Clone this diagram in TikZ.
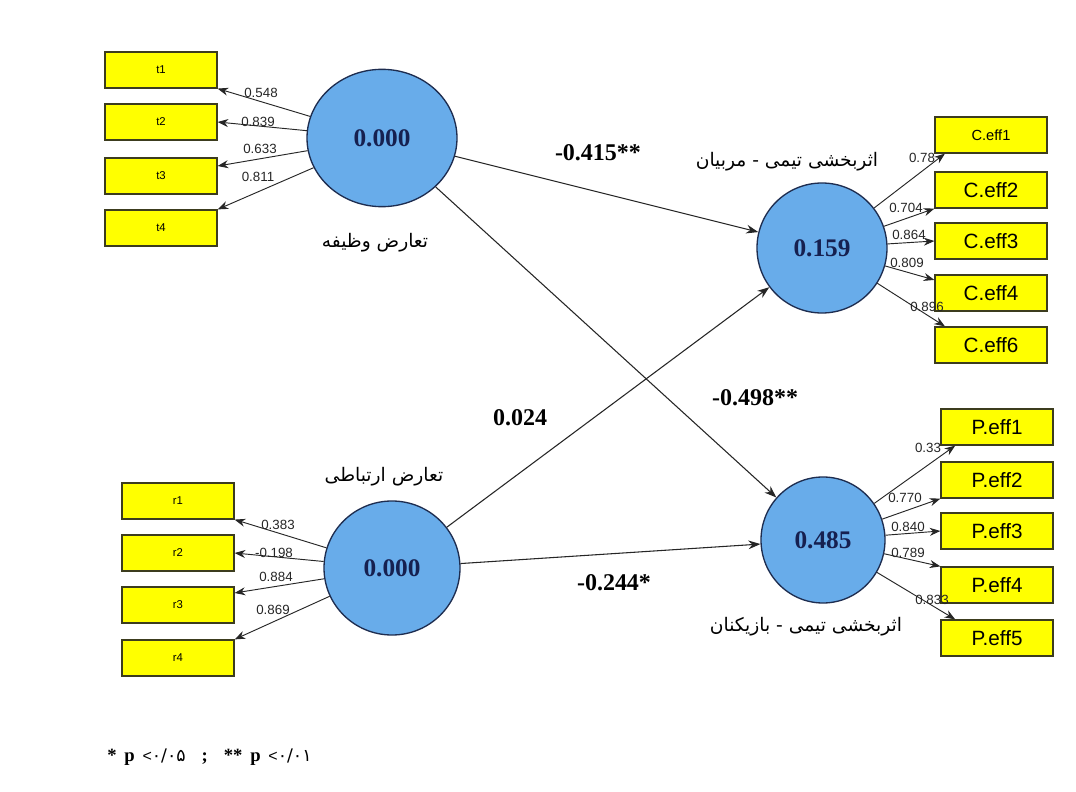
\documentclass[tikz,border=0pt]{standalone}
\usepackage{fontspec}
\usepackage{tikz}
\usetikzlibrary{shapes.geometric,arrows.meta}
\setmainfont{Liberation Serif}
\newfontfamily\boxfont{Liberation Sans}
\newfontfamily\farsifont[Script=Arabic]{DejaVu Sans}
\TeXXeTstate=1
\definecolor{latent-blue}{RGB}{104,172,234}
\definecolor{latent-edge}{RGB}{30,45,80}
\definecolor{value-navy}{RGB}{22,32,80}
\definecolor{box-yellow}{RGB}{255,255,0}
\definecolor{box-edge}{RGB}{60,60,30}
\tikzset{
    latent-var/.style = {draw=latent-edge, fill=latent-blue, ellipse, line width=1pt, inner sep=0pt, text=value-navy, font=\fontsize{19}{22}\selectfont\bfseries},
    indicator-box/.style = {draw=box-edge, fill=box-yellow, rectangle, line width=0.9pt, minimum width=84pt, minimum height=27pt, inner sep=0pt, font=\boxfont\fontsize{15.5}{17}\selectfont},
    loading-label/.style = {font=\boxfont\fontsize{10}{11}\selectfont, inner sep=0pt, text=black!85},
    path-label/.style = {font=\fontsize{18}{20}\selectfont\bfseries, inner sep=0pt},
    fa-label/.style = {font=\farsifont\fontsize{14}{16}\selectfont, inner sep=0pt},
    load-arrow/.style = {-{Stealth[length=8pt,width=6pt]}, draw=black!85, line width=0.7pt},
    path-arrow/.style = {-{Stealth[length=9pt,width=6.5pt]}, draw=black!85, line width=0.8pt},
}

\begin{document}
\begin{tikzpicture}[x=0.75pt, y=-0.75pt]
\fill[white] (0,0) rectangle (1076,792);
\useasboundingbox (0,0) rectangle (1076,792);

\node[latent-var, minimum width=112.5pt, minimum height=103pt] (tc) at (382,138) {0.000};
\node[latent-var, minimum width=102pt, minimum height=100.5pt] (rc) at (392,568) {0.000};
\node[latent-var, minimum width=97.5pt, minimum height=97.5pt] (ce) at (822,248) {0.159};
\node[latent-var, minimum width=93pt, minimum height=94.5pt] (pe) at (823,540) {0.485};

\foreach \i/\y in {1/70,2/122,3/176,4/228}
    \node[indicator-box, font=\boxfont\fontsize{8.5}{9}\selectfont] (t\i) at (161,\y) {t\i};
\foreach \i/\y in {1/501,2/553,3/605,4/658}
    \node[indicator-box, font=\boxfont\fontsize{8.5}{9}\selectfont] (r\i) at (178,\y) {r\i};
\node[indicator-box, font=\boxfont\fontsize{11}{12}\selectfont] (c1) at (991,135) {C.eff1};
\node[indicator-box] (c2) at (991,190) {C.eff2};
\node[indicator-box] (c3) at (991,241) {C.eff3};
\node[indicator-box] (c4) at (991,293) {C.eff4};
\node[indicator-box] (c5) at (991,345) {C.eff6};
\foreach \i/\y in {1/427,2/480,3/531,4/585,5/638}
    \node[indicator-box] (p\i) at (997,\y) {P.eff\i};

\draw[load-arrow] (tc) -- (t1.south east);
\draw[load-arrow] (tc) -- (t2.east);
\draw[load-arrow] (tc) -- (t3.10);
\draw[load-arrow] (tc) -- (t4.north east);
\draw[load-arrow] (rc) -- (r1.south east);
\draw[load-arrow] (rc) -- (r2.east);
\draw[load-arrow] (rc) -- (r3.12);
\draw[load-arrow] (rc) -- (r4.north east);
\draw[load-arrow] (ce) -- (c1.202);
\draw[load-arrow] (ce) -- (c2.south west);
\draw[load-arrow] (ce) -- (c3.west);
\draw[load-arrow] (ce) -- (c4.167);
\draw[load-arrow] (ce) -- (c5.158);
\draw[load-arrow] (pe) -- (p1.204);
\draw[load-arrow] (pe) -- (p2.south west);
\draw[load-arrow] (pe) -- (p3.west);
\draw[load-arrow] (pe) -- (p4.north west);
\draw[load-arrow] (pe) -- (p5.156);

\node[loading-label] (l-t1) at (261,93) {0.548};
\node[loading-label] (l-t2) at (258,122) {0.839};
\node[loading-label] (l-t3) at (260,149) {0.633};
\node[loading-label] (l-t4) at (258,177) {0.811};
\node[loading-label] (l-r1) at (278,525) {0.383};
\node[loading-label] (l-r2) at (274,553) {-0.198};
\node[loading-label] (l-r3) at (276,577) {0.884};
\node[loading-label] (l-r4) at (273,610) {0.869};
\node[loading-label] (l-c1) at (922,158) {0.78};
\node[loading-label] (l-c2) at (906,208) {0.704};
\node[loading-label] (l-c3) at (909,235) {0.864};
\node[loading-label] (l-c4) at (907,263) {0.809};
\node[loading-label] (l-c5) at (927,307) {0.896};
\node[loading-label] (l-p1) at (928,448) {0.33};
\node[loading-label] (l-p2) at (905,498) {0.770};
\node[loading-label] (l-p3) at (908,527) {0.840};
\node[loading-label] (l-p4) at (908,553) {0.789};
\node[loading-label] (l-p5) at (932,600) {0.833};

\draw[path-arrow] (tc) -- (ce);
\draw[path-arrow] (tc) -- (pe);
\draw[path-arrow] (rc) -- (ce);
\draw[path-arrow] (rc) -- (pe);

\node[path-label] (b-tc-ce) at (598,153) {-0.415**};
\node[path-label] (b-tc-pe) at (755,398) {-0.498**};
\node[path-label] (b-rc-ce) at (520,418) {0.024};
\node[path-label] (b-rc-pe) at (614,583) {-0.244*};

\node[fa-label] (tc-name) at (375,243) {\beginR تعارض وظیفه\endR};
\node[fa-label] (rc-name) at (384,477) {\beginR تعارض ارتباطی\endR};
\node[fa-label] (ce-name) at (787,162) {\beginR اثربخشی تیمی - مربیان\endR};
\node[fa-label] (pe-name) at (806,627) {\beginR اثربخشی تیمی - بازیکنان\endR};

\node[anchor=west, inner sep=0pt, font=\fontsize{14}{16}\selectfont\bfseries] (note) at (107,757)
    {*\, p\, {\boxfont\mdseries\fontsize{12}{13}\selectfont <}{\farsifont\mdseries\fontsize{13}{14}\selectfont ۰/۰۵}\hspace{12pt};\hspace{12pt}**\, p\, {\boxfont\mdseries\fontsize{12}{13}\selectfont <}{\farsifont\mdseries\fontsize{13}{14}\selectfont ۰/۰۱}};
\end{tikzpicture}
\end{document}
